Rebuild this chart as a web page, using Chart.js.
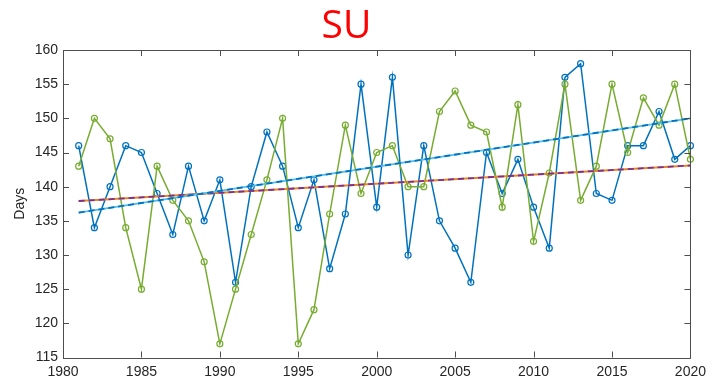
<!DOCTYPE html>
<html>
<head>
<meta charset="utf-8">
<script src="https://cdn.jsdelivr.net/npm/chart.js@4.4.1/dist/chart.umd.min.js"></script>
<style>
  html, body { margin: 0; padding: 0; background: #fff; }
  #wrap { width: 712px; height: 386px; }
</style>
</head>
<body>
<div id="wrap"><canvas id="suChart"></canvas></div>
<script>
// 年
const years = [1981, 1982, 1983, 1984, 1985, 1986, 1987, 1988, 1989, 1990,
               1991, 1992, 1993, 1994, 1995, 1996, 1997, 1998, 1999, 2000,
               2001, 2002, 2003, 2004, 2005, 2006, 2007, 2008, 2009, 2010,
               2011, 2012, 2013, 2014, 2015, 2016, 2017, 2018, 2019, 2020];
// 系列1（青）
const blueDays = [146, 134, 140, 146, 145, 139, 133, 143, 135, 141,
                  126, 140, 148, 143, 134, 141, 128, 136, 155, 137,
                  156, 130, 146, 135, 131, 126, 145, 139, 144, 137,
                  131, 156, 158, 139, 138, 146, 146, 151, 144, 146];
// 系列2（緑）
const greenDays = [143, 150, 147, 134, 125, 143, 138, 135, 129, 117,
                   125, 133, 141, 150, 117, 122, 136, 149, 139, 145,
                   146, 140, 140, 151, 154, 149, 148, 137, 152, 132,
                   142, 155, 138, 143, 155, 145, 153, 149, 155, 144];
// トレンド線の両端
const trendYears = [1981, 2020];
const blueTrend = [136.2, 150.0];
const greenTrend = [137.9, 143.1];
// 目盛り
const xTicks = [1980, 1985, 1990, 1995, 2000, 2005, 2010, 2015, 2020];
const yTicks = [115, 120, 125, 130, 135, 140, 145, 150, 155, 160];

function toPoints(xs, ys) {//x,y配列を点データにする
    return xs.map((x, i) => ({ x: x, y: ys[i] }));
}

const AXIS_COLOR = '#4d4d4d';
const FONT = 'Liberation Sans, Arial, sans-serif';

// 枠と内向きの目盛り線を描く
const boxTicks = {
    id: 'boxTicks',
    afterDatasetsDraw(chart) {
        const { ctx, chartArea: a, scales: { x, y } } = chart;
        const len = 6;
        ctx.save();
        ctx.strokeStyle = AXIS_COLOR;
        ctx.lineWidth = 1;
        ctx.beginPath();
        ctx.rect(Math.round(a.left) + 0.5, Math.round(a.top) + 0.5,
                 Math.round(a.right - a.left), Math.round(a.bottom - a.top));
        xTicks.forEach(v => {
            const px = Math.round(x.getPixelForValue(v)) + 0.5;
            ctx.moveTo(px, a.bottom); ctx.lineTo(px, a.bottom - len);
            ctx.moveTo(px, a.top); ctx.lineTo(px, a.top + len);
        });
        yTicks.forEach(v => {
            const py = Math.round(y.getPixelForValue(v)) + 0.5;
            ctx.moveTo(a.left, py); ctx.lineTo(a.left + len, py);
            ctx.moveTo(a.right, py); ctx.lineTo(a.right - len, py);
        });
        ctx.stroke();
        ctx.restore();
    }
};

const lineSet = (data, color) => ({
    data: data,
    borderColor: color,
    borderWidth: 1.5,
    pointRadius: 3,
    pointBorderWidth: 1.2,
    pointBackgroundColor: 'rgba(0,0,0,0)',
    pointBorderColor: color,
    tension: 0,
    clip: 6
});
const trendSet = (data, color, dash) => ({
    data: data,
    borderColor: color,
    borderWidth: 1.8,
    borderDash: dash,
    pointRadius: 0,
    tension: 0
});

new Chart(document.getElementById('suChart'), {
    type: 'line',
    data: {
        datasets: [
            trendSet(toPoints(trendYears, blueTrend), '#0072BD', [6, 4]),
            trendSet(toPoints(trendYears, blueTrend), '#4DBEEE', []),
            trendSet(toPoints(trendYears, greenTrend), '#7E2F8E', [6, 4]),
            trendSet(toPoints(trendYears, greenTrend), '#E3862E', []),
            lineSet(toPoints(years, greenDays), '#77AC30'),
            lineSet(toPoints(years, blueDays), '#0072BD')
        ]
    },
    options: {
        responsive: true,
        maintainAspectRatio: false,
        animation: false,
        layout: { padding: { left: 0, right: 19, top: 0, bottom: 0 } },
        plugins: {
            legend: { display: false },
            tooltip: { enabled: false },
            title: {
                display: true,
                text: 'SU',
                color: '#ff0000',
                font: { family: 'Open Sans, sans-serif', size: 39, weight: 'normal', lineHeight: 1.2 },
                padding: { top: 3, bottom: 0.2 }
            }
        },
        scales: {
            x: {
                type: 'linear',
                min: 1980,
                max: 2020,
                grid: { display: false, drawTicks: false },
                border: { display: false },
                afterBuildTicks(scale) { scale.ticks = xTicks.map(v => ({ value: v })); },
                afterFit(scale) { scale.height = 28.5; },
                ticks: {
                    color: '#262626',
                    padding: 6,
                    maxRotation: 0,
                    font: { family: FONT, size: 14 },
                    callback: v => String(v)
                }
            },
            y: {
                min: 115,
                max: 160,
                grid: { display: false, drawTicks: false },
                border: { display: false },
                afterBuildTicks(scale) { scale.ticks = yTicks.map(v => ({ value: v })); },
                afterFit(scale) { scale.width = 63; },
                ticks: {
                    color: '#262626',
                    padding: 5,
                    font: { family: FONT, size: 14 }
                },
                title: {
                    display: true,
                    text: 'Days',
                    color: '#262626',
                    font: { family: FONT, size: 14 },
                    padding: { top: 12, bottom: 0 }
                }
            }
        }
    },
    plugins: [boxTicks]
});
</script>
</body>
</html>
